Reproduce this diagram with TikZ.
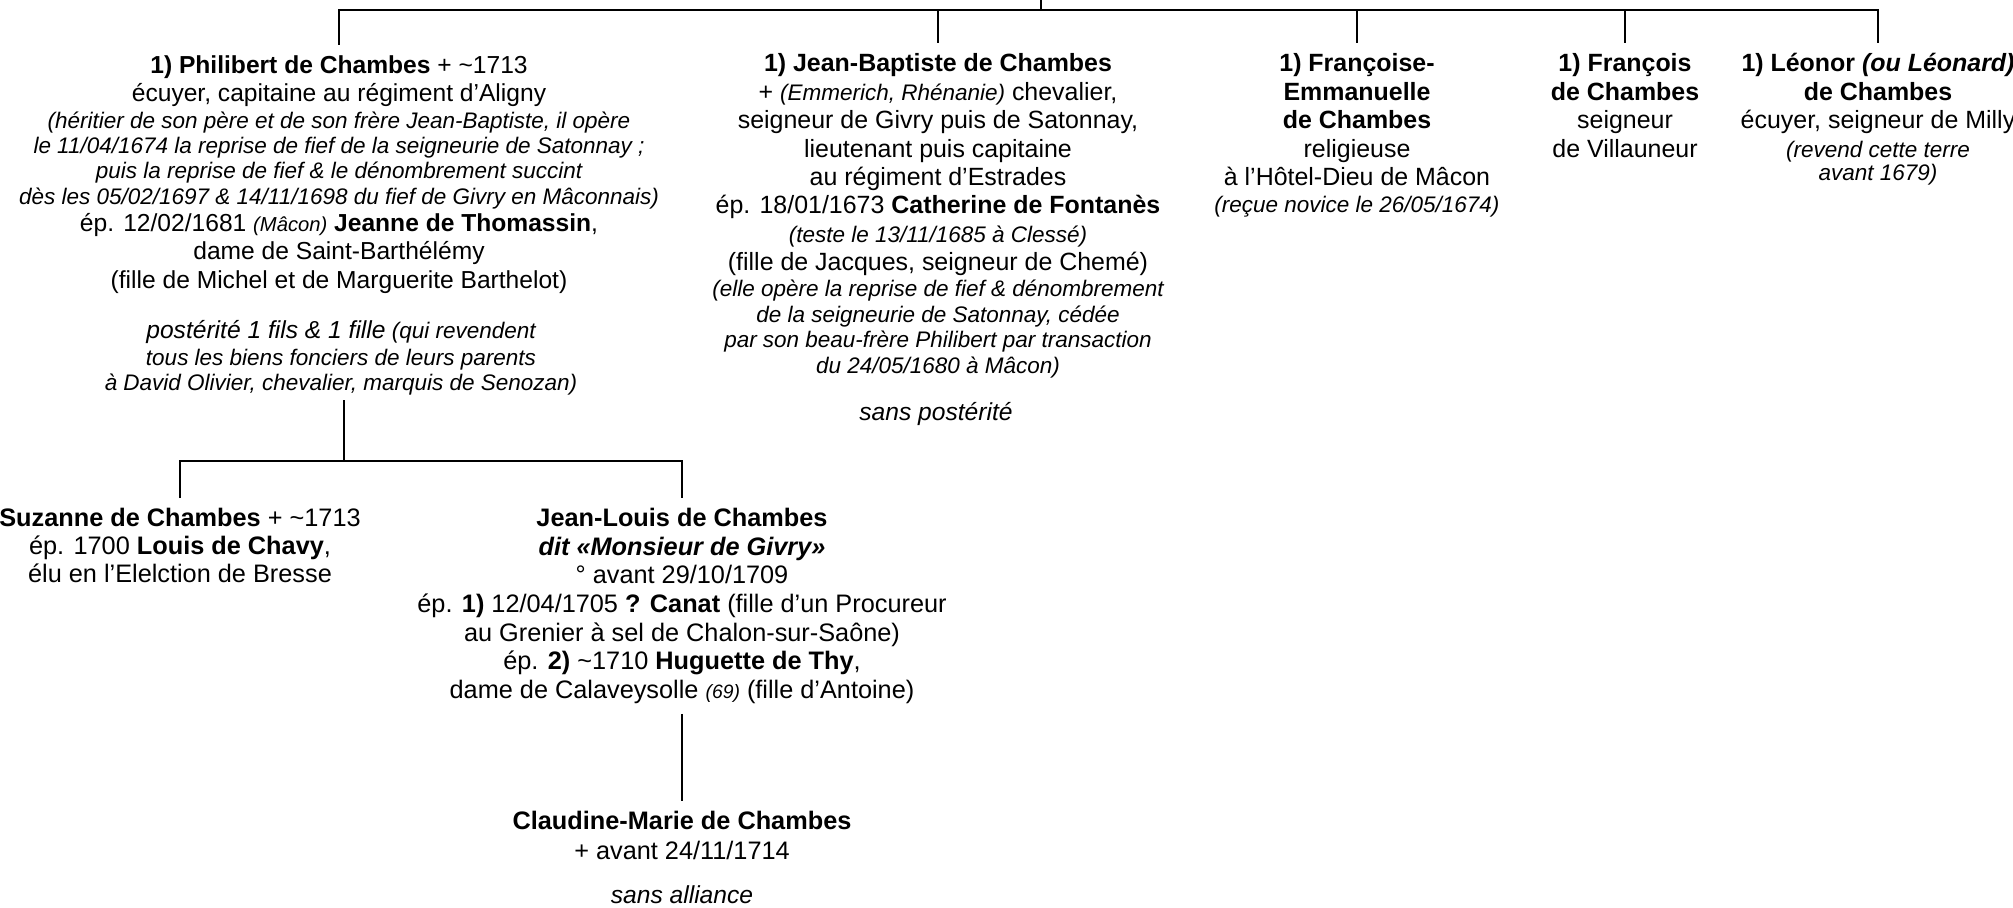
\documentclass[tikz,border=0pt]{standalone}
\usepackage{fontspec}
\setmainfont{Liberation Sans}
\newcommand{\noteit}[1]{{\fontsize{12.8}{14.6}\selectfont\itshape #1}}

\begin{document}
\begin{tikzpicture}[
    x=0.02cm, y=-0.02cm,
    person/.style={align=center, inner sep=0pt, outer ysep=6pt, anchor=north, font=\fontsize{14.2}{16.2}\selectfont},
    remark/.style={align=center, inner sep=0pt, font=\fontsize{12.8}{14.6}\selectfont\itshape},
    link/.style={line width=0.75pt}
]
\useasboundingbox (0,0) rectangle (2013,908);

% First generation (children of the first marriage)
\node[person, font=\fontsize{14}{16}\selectfont] (philibert) at (339,45) {\textbf{1) Philibert de Chambes} + \textasciitilde1713\\
    écuyer, capitaine au régiment d’Aligny\\[-0.7pt]
    \noteit{(héritier de son père et de son frère Jean-Baptiste, il opère}\\[-1.5pt]
    \noteit{le 11/04/1674 la reprise de fief de la seigneurie de Satonnay ;}\\[-1.8pt]
    \noteit{puis la reprise de fief \& le dénombrement succint}\\[-1.5pt]
    \noteit{dès les 05/02/1697 \& 14/11/1698 du fief de Givry en Mâconnais)}\\[-0.7pt]
    ép. 12/02/1681 {\fontsize{11.5}{13}\selectfont\itshape (Mâcon)} \textbf{Jeanne de Thomassin},\\[0.4pt]
    dame de Saint-Barthélémy\\[0.4pt]
    (fille de Michel et de Marguerite Barthelot)};
\node[remark, anchor=north, outer ysep=3pt, font=\fontsize{12.8}{14.2}\selectfont\itshape] (posterite) at (341,315) {{\fontsize{14}{16}\selectfont postérité 1 fils \& 1 fille} (qui revendent\\[1.1pt]
    tous les biens fonciers de leurs parents\\
    à David Olivier, chevalier, marquis de Senozan)};

\node[person] (baptiste) at (938,43) {\textbf{1) Jean-Baptiste de Chambes}\\
    + \noteit{(Emmerich, Rhénanie)} chevalier,\\
    seigneur de Givry puis de Satonnay,\\
    lieutenant puis capitaine\\
    au régiment d’Estrades\\
    ép. 18/01/1673 \textbf{Catherine de Fontanès}\\
    \noteit{(teste le 13/11/1685 à Clessé)}\\
    (fille de Jacques, seigneur de Chemé)\\[-1.6pt]
    \noteit{(elle opère la reprise de fief \& dénombrement}\\[-1.6pt]
    \noteit{de la seigneurie de Satonnay, cédée}\\[-1.6pt]
    \noteit{par son beau-frère Philibert par transaction}\\[-1.6pt]
    \noteit{du 24/05/1680 à Mâcon)}};
\node[remark, anchor=base, font=\fontsize{14}{16}\selectfont\itshape] (sanspost) at (936,420) {sans postérité};

\node[person] (francoise) at (1357,43) {\textbf{1) Françoise-}\\
    \textbf{Emmanuelle}\\
    \textbf{de Chambes}\\
    religieuse\\
    à l’Hôtel-Dieu de Mâcon\\[-0.9pt]
    \noteit{(reçue novice le 26/05/1674)}};

\node[person] (francois) at (1625,43) {\textbf{1) François}\\
    \textbf{de Chambes}\\
    seigneur\\
    de Villauneur};

\node[person] (leonor) at (1878,43) {\textbf{1) Léonor \textit{(ou Léonard)}}\\
    \textbf{de Chambes}\\
    écuyer, seigneur de Milly\\
    \noteit{(revend cette terre}\\[-2.9pt]
    \noteit{avant 1679)}};

% Second generation (children of Philibert)
\node[person, font=\fontsize{14.4}{15.7}\selectfont] (suzanne) at (180,498) {\textbf{Suzanne de Chambes} + \textasciitilde1713\\
    ép. 1700 \textbf{Louis de Chavy},\\
    élu en l’Elelction de Bresse};

\node[person, font=\fontsize{14.4}{16.25}\selectfont] (jeanlouis) at (682,498) {\textbf{Jean-Louis de Chambes}\\
    \textbf{\textit{dit «Monsieur de Givry»}}\\
    ° avant 29/10/1709\\
    ép. \textbf{1)} 12/04/1705 \textbf{? Canat} (fille d’un Procureur\\
    au Grenier à sel de Chalon-sur-Saône)\\
    ép. \textbf{2)} \textasciitilde1710 \textbf{Huguette de Thy},\\
    dame de Calaveysolle {\fontsize{11}{12}\selectfont\itshape (69)} (fille d’Antoine)};

% Third generation
\node[person, font=\fontsize{14.4}{16.8}\selectfont] (claudine) at (682,801) {\textbf{Claudine-Marie de Chambes}\\
    + avant 24/11/1714};
\node[remark, anchor=base, font=\fontsize{14}{16}\selectfont\itshape] (sansall) at (682,903) {sans alliance};

% Tree lines
\coordinate (root) at (1041,0);
\coordinate (bar) at (1041,10);
\draw[link] (root) -- (bar);
\draw[link] (philibert.north) |- (bar) -| (leonor.north);
\draw[link] (baptiste.north) -- (baptiste.north |- bar);
\draw[link] (francoise.north) -- (francoise.north |- bar);
\draw[link] (francois.north) -- (francois.north |- bar);

\coordinate (split) at (344,461);
\draw[link] (posterite.south -| split) -- (split);
\draw[link] (suzanne.north) |- (split) -| (jeanlouis.north);
\draw[link] (jeanlouis.south) -- (claudine.north);

\end{tikzpicture}
\end{document}
